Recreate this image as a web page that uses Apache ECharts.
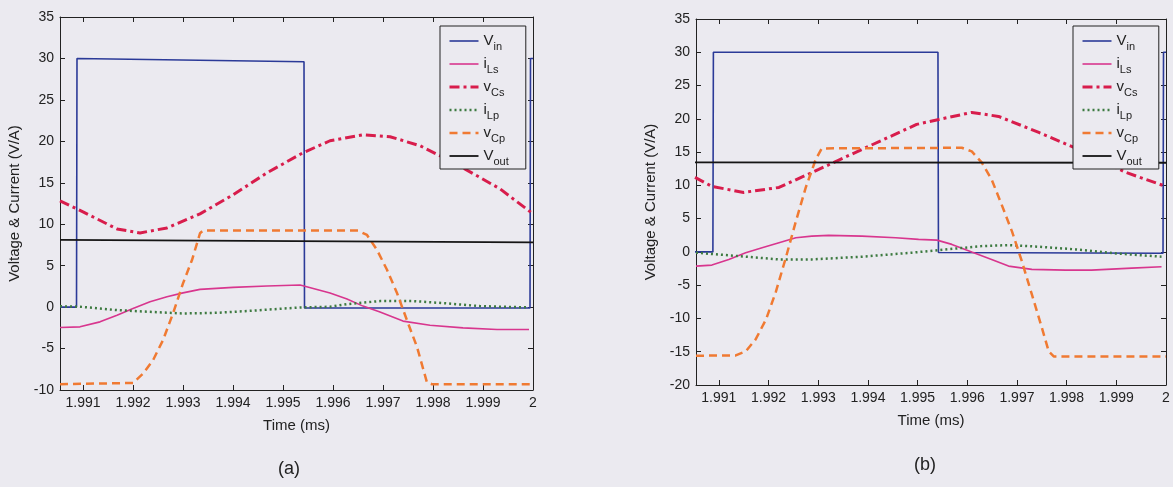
<!DOCTYPE html>
<html>
<head>
    <meta charset="utf-8">
    <script src="https://cdn.jsdelivr.net/npm/echarts@6/dist/echarts.min.js"></script>
    <style>
        html, body { margin: 0; padding: 0; background: #ebeaf0; }
    </style>
</head>
<body>
    <div id="main" style="width: 1173px;height:487px;"></div>
    <script type="text/javascript">
        // time axis (ms)
        var xMin = 1.99054, xMax = 2;

        // ---- (a) ----
        var tVinA = [1.99054, 1.99087, 1.99088, 1.99542, 1.99543, 1.99994, 1.99995, 2.0];
        var vinA  = [0, 0, 30, 29.6, -0.1, -0.1, 30, 30];

        var tILsA = [1.99054, 1.99094, 1.99134, 1.99168, 1.992, 1.99234, 1.99268, 1.993, 1.99334, 1.994, 1.99468, 1.99534, 1.9954, 1.99594, 1.99628, 1.9966, 1.99694, 1.9974, 1.99794, 1.9986, 1.99928, 1.99992];
        var iLsA  = [-2.46, -2.38, -1.78, -0.97, -0.16, 0.64, 1.25, 1.72, 2.14, 2.38, 2.54, 2.66, 2.58, 1.69, 0.97, 0.12, -0.6, -1.69, -2.18, -2.5, -2.7, -2.7];

        var tVCsA = [1.99054, 1.991, 1.99168, 1.99214, 1.99268, 1.99334, 1.994, 1.99468, 1.9954, 1.99594, 1.9966, 1.99714, 1.99774, 1.99814, 1.99874, 1.99934, 2.0];
        var vCsA  = [12.82, 11.49, 9.43, 8.95, 9.55, 11.25, 13.54, 16.2, 18.62, 20.07, 20.8, 20.56, 19.47, 18.26, 16.32, 14.27, 11.25];

        var tILpA = [1.99054, 1.99094, 1.99168, 1.99234, 1.993, 1.99368, 1.99434, 1.99534, 1.99594, 1.99628, 1.99694, 1.9976, 1.99828, 1.99894, 1.99992];
        var iLpA  = [0.1, 0.05, -0.36, -0.57, -0.77, -0.69, -0.45, -0.04, 0.04, 0.36, 0.73, 0.73, 0.45, 0.12, -0.04];

        var tVCpA = [1.99054, 1.992, 1.9922, 1.9924, 1.9926, 1.9928, 1.993, 1.99318, 1.99334, 1.9934, 1.9965, 1.99668, 1.99688, 1.99708, 1.99728, 1.99748, 1.99768, 1.99788, 1.99798, 2.0];
        var vCpA  = [-9.3, -9.15, -8.02, -6.41, -3.99, -0.76, 2.86, 5.68, 8.91, 9.23, 9.23, 8.7, 6.9, 4.5, 1.7, -1.6, -4.8, -9.1, -9.3, -9.3];

        var tVoutA = [1.99054, 2.0];
        var voutA  = [8.1, 7.8];

        // ---- (b) ----
        var tVinB = [1.99052, 1.99088, 1.99089, 1.99541, 1.99542, 1.99994, 1.99995, 2.0];
        var vinB  = [0, 0, 30, 30, -0.1, -0.2, 30, 30];

        var tILsB = [1.99054, 1.99086, 1.9912, 1.99154, 1.99187, 1.99221, 1.99255, 1.99287, 1.99321, 1.99388, 1.99456, 1.99502, 1.99539, 1.99569, 1.99609, 1.99649, 1.99683, 1.9973, 1.99798, 1.9985, 1.99931, 1.99991];
        var iLsB  = [-2.13, -1.98, -1.13, -0.12, 0.63, 1.38, 2.13, 2.37, 2.48, 2.37, 2.13, 1.88, 1.77, 1.13, -0.03, -1.13, -2.13, -2.63, -2.73, -2.73, -2.43, -2.22];

        var tVCsB = [1.99052, 1.99086, 1.9915, 1.99221, 1.99301, 1.99388, 1.99498, 1.99543, 1.99609, 1.99663, 1.99744, 1.99824, 1.99919, 2.0];
        var vCsB  = [11.19, 9.84, 8.94, 9.69, 12.4, 15.4, 19.16, 19.91, 20.96, 20.36, 17.96, 15.4, 11.95, 9.84];

        var tILpB = [1.99054, 1.9914, 1.99221, 1.99287, 1.99388, 1.99488, 1.99543, 1.99629, 1.99683, 1.99744, 1.99818, 1.99899, 1.99991];
        var iLpB  = [-0.12, -0.63, -1.13, -1.13, -0.72, -0.12, 0.27, 0.87, 1.02, 0.78, 0.38, -0.23, -0.72];

        var tVCpB = [1.99054, 1.99134, 1.99154, 1.99174, 1.99195, 1.99215, 1.99235, 1.99255, 1.99275, 1.99295, 1.99307, 1.99589, 1.99609, 1.99629, 1.99649, 1.99669, 1.9969, 1.9971, 1.9973, 1.9975, 1.99764, 1.99774, 2.0];
        var vCpB  = [-15.6, -15.55, -14.95, -13.15, -10.14, -5.94, -0.83, 4.58, 9.69, 13.9, 15.55, 15.65, 15.1, 13.45, 10.9, 7.14, 3.08, -1.43, -6.39, -11.35, -14.95, -15.7, -15.7];

        var tVoutB = [1.99052, 2.0];
        var voutB  = [13.45, 13.4];

        var names = ['Vin', 'iLs', 'vCs', 'iLp', 'vCp', 'Vout'];
        var legendText = {
            Vin: '{m|V}{s|in}', iLs: '{m|i}{s|Ls}', vCs: '{m|v}{s|Cs}',
            iLp: '{m|i}{s|Lp}', vCp: '{m|v}{s|Cp}', Vout: '{m|V}{s|out}'
        };

        var bg = '#ebeaf0';
        var font = 'Liberation Sans, Arial, sans-serif';

        function zip(t, v) {
            var out = [];
            for (var i = 0; i < t.length; i++) out.push([t[i], v[i]]);
            return out;
        }

        var styles = {
            Vin:  {color: '#2b3a98', width: 1.6, type: 'solid'},
            iLs:  {color: '#d8368e', width: 1.6, type: 'solid'},
            vCs:  {color: '#d81d4c', width: 3, type: [10, 4, 3, 4]},
            iLp:  {color: '#3d7a40', width: 2.5, type: [2, 3]},
            vCp:  {color: '#f07a32', width: 2.5, type: [8, 5]},
            Vout: {color: '#151515', width: 1.8, type: 'solid'}
        };

        function mkSeries(name, data, idx) {
            return {
                name: name,
                type: 'line',
                xAxisIndex: idx,
                yAxisIndex: idx,
                data: data,
                symbol: 'none',
                smooth: false,
                color: styles[name].color,
                lineStyle: styles[name]
            };
        }

        function xAxes(grid, top) {
            return {
                gridIndex: grid,
                type: 'value',
                position: top ? 'top' : 'bottom',
                min: xMin,
                max: xMax,
                splitNumber: 9,
                name: top ? '' : 'Time (ms)',
                nameLocation: 'middle',
                nameGap: 28,
                nameTextStyle: {fontSize: 15, color: '#222', fontFamily: font},
                axisLine: {show: true, onZero: false, lineStyle: {color: '#222', width: 1}},
                axisTick: {show: true, inside: true, length: 5, lineStyle: {color: '#222'}},
                splitLine: {show: false},
                axisLabel: {
                    show: !top,
                    showMinLabel: false,
                    showMaxLabel: true,
                    margin: 6,
                    fontSize: 14,
                    color: '#222',
                    fontFamily: font,
                    formatter: function (v) {
                        return Math.abs(v - 2) < 1e-9 ? '2' : v.toFixed(3);
                    }
                }
            };
        }

        function yAxes(grid, right, min) {
            return {
                gridIndex: grid,
                type: 'value',
                position: right ? 'right' : 'left',
                min: min,
                max: 35,
                interval: 5,
                name: right ? '' : 'Voltage & Current (V/A)',
                nameLocation: 'middle',
                nameGap: 38,
                nameTextStyle: {fontSize: 15, color: '#222', fontFamily: font},
                axisLine: {show: true, onZero: false, lineStyle: {color: '#222', width: 1}},
                axisTick: {show: true, inside: true, length: 5, lineStyle: {color: '#222'}},
                splitLine: {show: false},
                axisLabel: {show: !right, margin: 6, fontSize: 14, color: '#222', fontFamily: font}
            };
        }

        function mkLegend(left, top) {
            return {
                orient: 'vertical',
                left: left,
                top: top,
                data: names,
                itemWidth: 29,
                itemHeight: 10,
                itemGap: 1,
                padding: [4, 17, 2, 8],
                backgroundColor: bg,
                borderColor: '#222',
                borderWidth: 1,
                borderRadius: 0,
                selectedMode: false,
                itemStyle: {opacity: 0},
                lineStyle: {width: 'inherit'},
                formatter: function (n) { return legendText[n]; },
                textStyle: {
                    color: '#222',
                    fontFamily: font,
                    rich: {
                        m: {fontSize: 15, lineHeight: 18, fontFamily: font, color: '#222'},
                        s: {fontSize: 11, lineHeight: 10, padding: [11, 0, 0, 0], fontFamily: font, color: '#222'}
                    }
                }
            };
        }

        var series = [
            mkSeries('Vin', zip(tVinA, vinA), 0),
            mkSeries('iLs', zip(tILsA, iLsA), 0),
            mkSeries('vCs', zip(tVCsA, vCsA), 0),
            mkSeries('iLp', zip(tILpA, iLpA), 0),
            mkSeries('vCp', zip(tVCpA, vCpA), 0),
            mkSeries('Vout', zip(tVoutA, voutA), 0),
            mkSeries('Vin', zip(tVinB, vinB), 2),
            mkSeries('iLs', zip(tILsB, iLsB), 2),
            mkSeries('vCs', zip(tVCsB, vCsB), 2),
            mkSeries('iLp', zip(tILpB, iLpB), 2),
            mkSeries('vCp', zip(tVCpB, vCpB), 2),
            mkSeries('Vout', zip(tVoutB, voutB), 2)
        ];

        var option = {
            backgroundColor: bg,
            animation: false,
            title: [
                {text: '(a)', left: 284, top: 455, textAlign: 'center',
                 textStyle: {fontSize: 18, fontWeight: 'normal', color: '#222', fontFamily: font}},
                {text: '(b)', left: 920, top: 451, textAlign: 'center',
                 textStyle: {fontSize: 18, fontWeight: 'normal', color: '#222', fontFamily: font}}
            ],
            legend: [mkLegend(440, 26), mkLegend(1073, 26)],
            grid: [
                {left: 60, top: 17, width: 473, height: 373},
                {left: 696, top: 19, width: 470, height: 366}
            ],
            xAxis: [xAxes(0, false), xAxes(0, true), xAxes(1, false), xAxes(1, true)],
            yAxis: [yAxes(0, false, -10), yAxes(0, true, -10), yAxes(1, false, -20), yAxes(1, true, -20)],
            series: series
        };

        var myChart = echarts.init(document.getElementById('main'));
        myChart.setOption(option);
    </script>
</body>
</html>
